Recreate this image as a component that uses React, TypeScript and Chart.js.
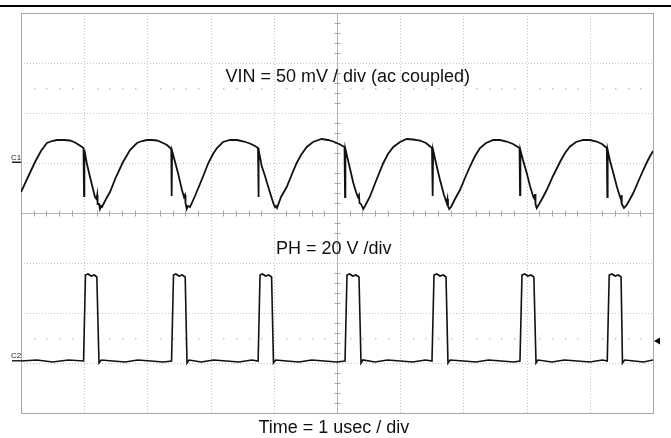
import React, { useEffect, useRef } from "react";
import { Chart, registerables } from "chart.js";

Chart.register(...registerables);

// Horizontal graticule: time in microseconds (1 µs / div)
const timeDivisionsUs = [0, 1, 2, 3, 4, 5, 6, 7, 8, 9, 10];
// Vertical graticule expressed on the VIN channel: 50 mV / div
const vinDivisionsMv = [-250, -200, -150, -100, -50, 0, 50, 100, 150];

// Channel 1: VIN ripple (mV, ac coupled) vs time (µs)
const vinSamples: [number, number][] = [
  [0.000, -29], [0.111, -14], [0.222, 1], [0.316, 12], [0.411, 20], [0.491, 22], [0.570, 23], [0.680, 23], [0.775, 22.5], [0.854, 20.5], [0.918, 18], [0.989, 15],
  [0.997, -33], [1.003, 13], [1.040, 0], [1.092, -14], [1.139, -26], [1.171, -34], [1.195, -36], [1.206, -32], [1.212, -41], [1.234, -41], [1.250, -46], [1.266, -43], [1.282, -44],
  [1.345, -36], [1.408, -29], [1.503, -14], [1.614, 1], [1.725, 13], [1.835, 20], [1.915, 22], [1.994, 23], [2.073, 23], [2.152, 22.5], [2.231, 20.5], [2.310, 18], [2.378, 14],
  [2.384, -33], [2.391, 12], [2.421, 5], [2.484, -10], [2.547, -27], [2.579, -34], [2.595, -32], [2.603, -40], [2.622, -46], [2.642, -43], [2.674, -44],
  [2.753, -33], [2.832, -21], [2.896, -11], [2.964, 0], [3.038, 9], [3.101, 15], [3.196, 21], [3.307, 23], [3.418, 23], [3.528, 21.5], [3.623, 19.5], [3.703, 17], [3.750, 15],
  [3.756, -34], [3.763, 13], [3.809, -3], [3.861, -13], [3.908, -23], [3.967, -35], [3.987, -39], [4.003, -42], [4.019, -44], [4.035, -43], [4.051, -45],
  [4.114, -34], [4.204, -24], [4.288, -11], [4.362, 0], [4.430, 8], [4.521, 16], [4.620, 21], [4.758, 24], [4.858, 23], [4.941, 21.5], [5.032, 19], [5.119, 16],
  [5.127, -34], [5.133, 14], [5.174, 3], [5.258, -20], [5.301, -29], [5.332, -34], [5.348, -32], [5.356, -40], [5.380, -41], [5.416, -46], [5.443, -43],
  [5.522, -33.5], [5.617, -18], [5.733, 0], [5.807, 9], [5.891, 16], [5.997, 21], [6.103, 24], [6.203, 23.5], [6.313, 22.5], [6.408, 20], [6.503, 15],
  [6.514, -33], [6.521, 13], [6.566, 0], [6.630, -17], [6.693, -32], [6.736, -40], [6.748, -36], [6.756, -43], [6.777, -46], [6.804, -44],
  [6.867, -36], [6.946, -27], [7.025, -15], [7.104, -3.5], [7.184, 7], [7.263, 15], [7.358, 20], [7.473, 23], [7.579, 23], [7.685, 21.5], [7.785, 19], [7.888, 15],
  [7.896, -32], [7.902, 13], [7.943, 3], [8.002, -10], [8.054, -23], [8.106, -34], [8.125, -36], [8.133, -31], [8.141, -41], [8.160, -45], [8.180, -43],
  [8.244, -36], [8.318, -27], [8.418, -13], [8.528, 1], [8.608, 10], [8.687, 16.5], [8.782, 21], [8.897, 23], [9.003, 23], [9.109, 21.5], [9.193, 19], [9.269, 15],
  [9.277, -34], [9.283, 13], [9.320, 2], [9.372, -10], [9.430, -24], [9.478, -34], [9.494, -36], [9.502, -32], [9.509, -41], [9.541, -45], [9.573, -43],
  [9.620, -38], [9.688, -30], [9.763, -19], [9.846, -7], [9.921, 3], [10.000, 12],
];

// Channel 2: PH switch node (V) vs time (µs)
const phSamples: [number, number][] = [
  [0.000, 0], [0.250, 0.4], [0.500, -0.4], [0.750, 0.4], [0.990, 0],
  [1.020, 34.4], [1.060, 34.8], [1.110, 34.0], [1.160, 34.4], [1.200, 33.6], [1.234, -0.8], [1.270, 0.4],
  [1.450, 0], [1.650, -0.4], [1.850, 0.4], [2.050, 0], [2.250, -0.4], [2.382, 0],
  [2.413, 34.4], [2.450, 34.8], [2.500, 34.0], [2.550, 34.4], [2.598, 33.6], [2.627, -0.8], [2.660, 0.4],
  [2.850, -0.4], [3.050, 0.4], [3.250, 0], [3.450, -0.4], [3.650, 0.4], [3.752, 0],
  [3.782, 34.4], [3.820, 34.8], [3.870, 34.0], [3.920, 34.4], [3.965, 33.6], [3.995, -0.8], [4.030, 0.4],
  [4.200, 0], [4.400, -0.4], [4.600, 0.4], [4.800, 0], [5.000, -0.4], [5.127, 0],
  [5.158, 34.4], [5.200, 34.8], [5.250, 34.0], [5.300, 34.4], [5.348, 33.6], [5.380, -0.8], [5.410, 0.4],
  [5.600, -0.4], [5.800, 0.4], [6.000, 0], [6.200, -0.4], [6.400, 0.4], [6.503, 0],
  [6.535, 34.4], [6.580, 34.8], [6.630, 34.0], [6.680, 34.4], [6.725, 33.6], [6.756, -0.8], [6.790, 0.4],
  [7.000, 0], [7.200, -0.4], [7.400, 0.4], [7.600, 0], [7.800, -0.4], [7.895, 0],
  [7.927, 34.4], [7.970, 34.8], [8.020, 34.0], [8.070, 34.4], [8.115, 33.6], [8.149, -0.8], [8.180, 0.4],
  [8.400, -0.4], [8.600, 0.4], [8.800, 0], [9.000, -0.4], [9.200, 0.4], [9.276, 0],
  [9.307, 34.4], [9.350, 34.8], [9.400, 34.0], [9.450, 34.4], [9.495, 33.6], [9.517, -0.8], [9.550, 0.4],
  [9.700, 0], [9.850, -0.4], [10.000, 0.4],
];

const vinLabel = "VIN = 50 mV / div (ac coupled)";
const phLabel = "PH = 20 V /div";
const timeLabel = "Time = 1 usec / div";
const ch1Label = "C1";
const ch2Label = "C2";
const triggerLevelV = 8;

const FONT = '"Liberation Sans", Arial, Helvetica, sans-serif';

const scopePlugin = {
  id: "scopeGraticule",
  beforeDatasetsDraw(chart: any) {
    const { ctx, chartArea: a, scales } = chart;
    const sx = scales.x;
    const sy = scales.yVin;
    ctx.save();
    // dotted division lines
    ctx.strokeStyle = "#c6c6c6";
    ctx.lineWidth = 1;
    ctx.setLineDash([1, 2]);
    for (const t of timeDivisionsUs) {
      if (t === timeDivisionsUs[0] || t === timeDivisionsUs[timeDivisionsUs.length - 1] || t === 5) continue;
      const px = Math.round(sx.getPixelForValue(t)) + 0.5;
      ctx.beginPath();
      ctx.moveTo(px, a.top);
      ctx.lineTo(px, a.bottom);
      ctx.stroke();
    }
    for (const v of vinDivisionsMv) {
      if (v === vinDivisionsMv[0] || v === vinDivisionsMv[vinDivisionsMv.length - 1] || v === -50) continue;
      const py = Math.round(sy.getPixelForValue(v)) + 0.5;
      ctx.beginPath();
      ctx.moveTo(a.left, py);
      ctx.lineTo(a.right, py);
      ctx.stroke();
    }
    ctx.setLineDash([]);

    // centre cross with minor ticks
    const cx = Math.round(sx.getPixelForValue(5)) + 0.5;
    const cy = Math.round(sy.getPixelForValue(-50)) + 0.5;
    ctx.strokeStyle = "#b4b4b4";
    ctx.beginPath();
    ctx.moveTo(cx, a.top);
    ctx.lineTo(cx, a.bottom);
    ctx.moveTo(a.left, cy);
    ctx.lineTo(a.right, cy);
    ctx.stroke();
    ctx.strokeStyle = "#a8a8a8";
    ctx.beginPath();
    for (let i = 1; i < 50; i++) {
      if (i % 5 === 0) continue;
      const px = Math.round(sx.getPixelForValue(i * 0.2)) + 0.5;
      ctx.moveTo(px, cy - 3);
      ctx.lineTo(px, cy + 3);
    }
    for (let i = 1; i < 40; i++) {
      if (i % 5 === 0) continue;
      const py = Math.round(sy.getPixelForValue(-250 + i * 10)) + 0.5;
      ctx.moveTo(cx - 3, py);
      ctx.lineTo(cx + 3, py);
    }
    ctx.stroke();

    // faint dotted rows
    ctx.fillStyle = "#c8c8c8";
    for (const v of [75, -175]) {
      const py = Math.round(sy.getPixelForValue(v));
      for (let i = 1; i < 50; i++) {
        if (i % 5 === 0) continue;
        const px = Math.round(sx.getPixelForValue(i * 0.2));
        ctx.fillRect(px, py, 1.5, 1.5);
      }
    }

    // frame
    ctx.strokeStyle = "#a6a6a6";
    ctx.lineWidth = 1;
    ctx.strokeRect(Math.round(a.left) + 0.5, Math.round(a.top) + 0.5, Math.round(a.right - a.left), Math.round(a.bottom - a.top));
    ctx.restore();
  },
  afterDraw(chart: any) {
    const { ctx, chartArea: a, scales, width } = chart;
    const sx = scales.x;
    const sv = scales.yVin;
    const sp = scales.yPh;
    ctx.save();
    // top rule
    ctx.fillStyle = "#000";
    ctx.fillRect(0, a.top - 8, width, 2);

    // annotations
    ctx.fillStyle = "#111";
    ctx.font = `18px ${FONT}`;
    ctx.textAlign = "center";
    ctx.textBaseline = "alphabetic";
    ctx.fillText(vinLabel, sx.getPixelForValue(5.17), sv.getPixelForValue(81));
    ctx.fillText(phLabel, sx.getPixelForValue(4.95), sp.getPixelForValue(42.8));
    ctx.fillText(timeLabel, sx.getPixelForValue(4.95), a.bottom + 20);

    // channel ground markers
    ctx.font = `8px ${FONT}`;
    ctx.textAlign = "left";
    const g1 = sv.getPixelForValue(0);
    const g2 = sp.getPixelForValue(0);
    ctx.fillStyle = "#222";
    ctx.fillText(ch1Label, a.left - 10, g1 - 3);
    ctx.fillRect(a.left - 9, g1 - 1.5, 9, 1.5);
    ctx.fillText(ch2Label, a.left - 10, g2 - 3);
    ctx.fillRect(a.left - 9, g2 - 1, 9, 1.5);

    // trigger level arrow
    const ty = sp.getPixelForValue(triggerLevelV);
    ctx.fillStyle = "#000";
    ctx.beginPath();
    ctx.moveTo(a.right + 1, ty);
    ctx.lineTo(a.right + 7, ty - 3.5);
    ctx.lineTo(a.right + 7, ty + 3.5);
    ctx.closePath();
    ctx.fill();
    ctx.restore();
  },
};

export default function App() {
  const canvasRef = useRef<HTMLCanvasElement | null>(null);

  useEffect(() => {
    const canvas = canvasRef.current;
    if (!canvas) return;
    const chart = new Chart(canvas, {
      type: "line",
      data: {
        datasets: [
          {
            label: "VIN",
            data: vinSamples.map(([t, v]) => ({ x: t, y: v })),
            yAxisID: "yVin",
            borderColor: "#111",
            borderWidth: 1.8,
            pointRadius: 0,
            tension: 0,
            fill: false,
          },
          {
            label: "PH",
            data: phSamples.map(([t, v]) => ({ x: t, y: v })),
            yAxisID: "yPh",
            borderColor: "#111",
            borderWidth: 1.6,
            pointRadius: 0,
            tension: 0,
            fill: false,
          },
        ],
      },
      options: {
        animation: false,
        responsive: false,
        maintainAspectRatio: false,
        layout: { padding: { left: 21, top: 13, right: 18, bottom: 25 } },
        plugins: { legend: { display: false }, tooltip: { enabled: false } },
        scales: {
          x: { type: "linear", min: 0, max: 10, display: false },
          yVin: { type: "linear", min: -250, max: 150, display: false },
          yPh: { type: "linear", min: -20.8, max: 139.2, display: false },
        },
      },
      plugins: [scopePlugin],
    });
    return () => chart.destroy();
  }, []);

  return (
    <div style={{ position: "fixed", left: 0, top: 0, width: 671, height: 438, background: "#fff" }}>
      <canvas ref={canvasRef} width={671} height={438} style={{ display: "block", width: 671, height: 438 }} />
    </div>
  );
}
